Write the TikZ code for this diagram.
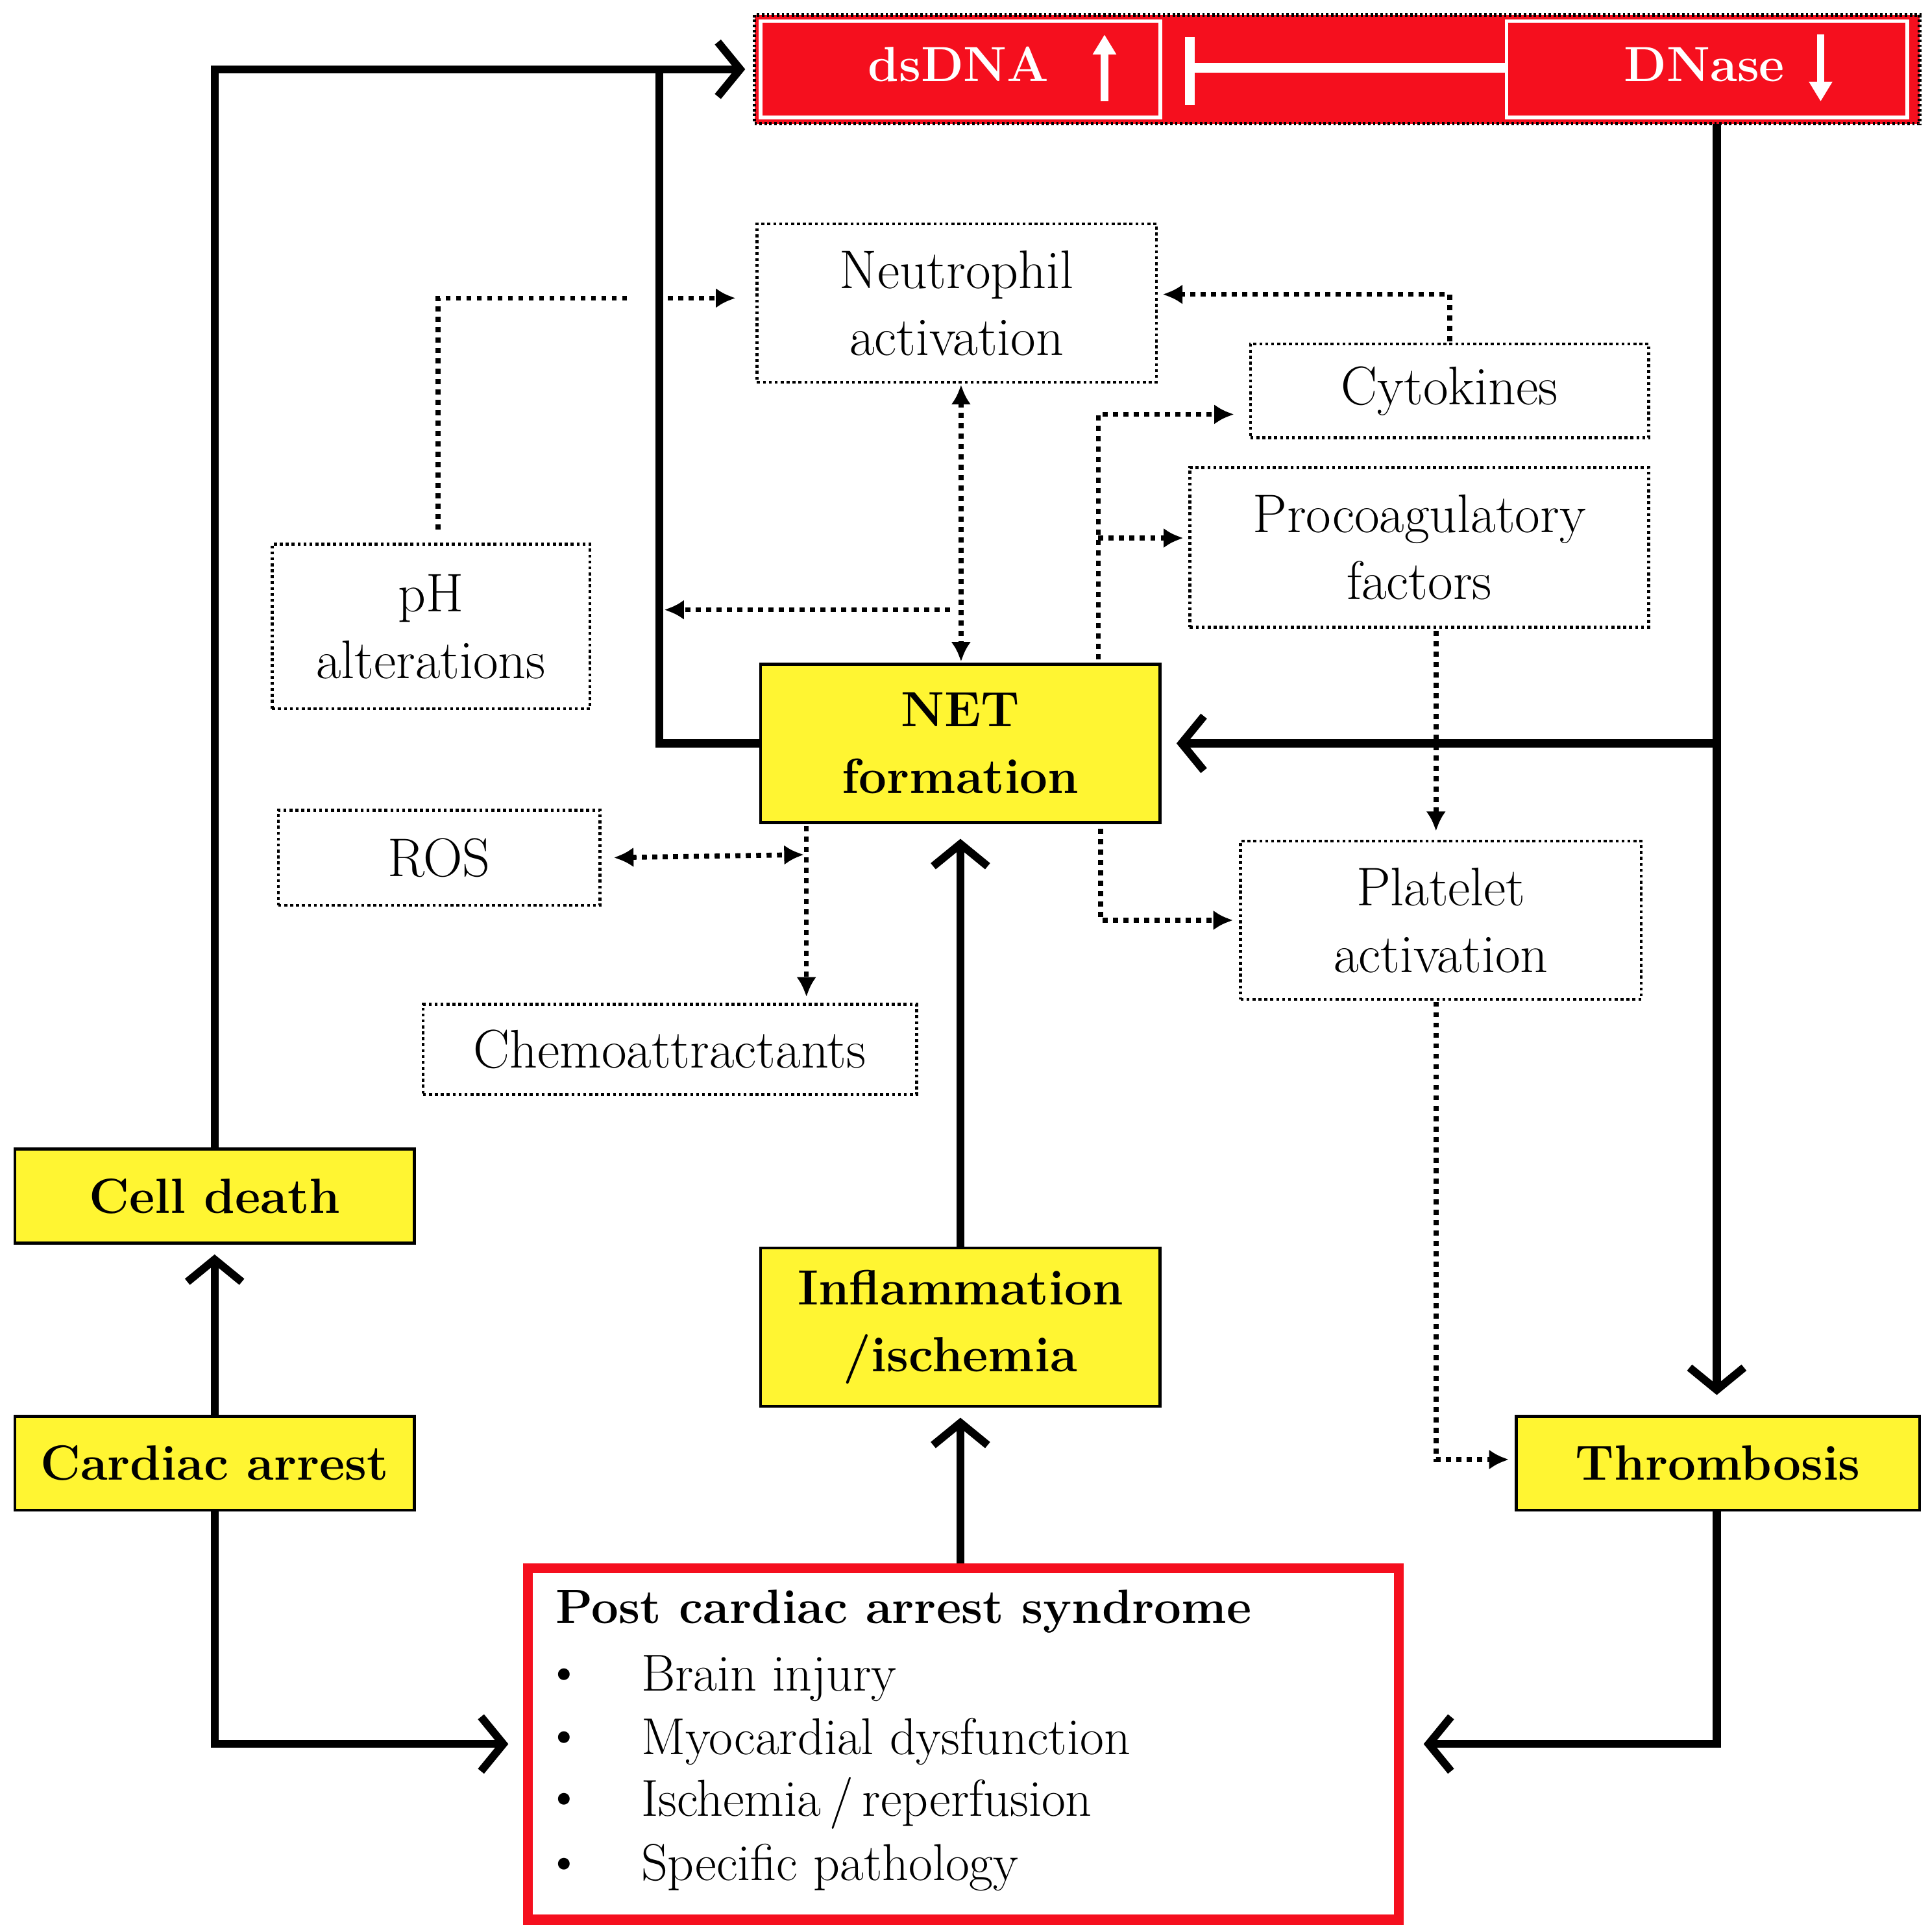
\documentclass[tikz,border=0pt]{standalone}
\usetikzlibrary{arrows.meta}
\definecolor{rred}{RGB}{245,15,30}
\definecolor{yel}{RGB}{255,245,50}
\begin{document}
\begin{tikzpicture}[x=0.5pt,y=-0.5pt,
  lab/.style={font=\fontsize{22}{27}\selectfont,align=center,inner sep=0pt},
  ptx/.style={inner sep=0pt,font=\fontsize{21}{25}\selectfont},
  dbox/.style={lab,draw,line width=1.2pt,dash pattern=on 1.2pt off 1.2pt},
  ybox/.style={lab,draw,fill=yel,line width=1.2pt,font=\fontsize{20}{27}\selectfont\bfseries},
  thk/.style={line width=3.2pt,-{Straight Barb[length=9pt,width=22pt,line width=3.2pt]}},
  thkn/.style={line width=3.2pt},
  dot/.style={line width=2pt,dash pattern=on 2pt off 2.2pt,-{Latex[length=8pt,width=8pt]}},
  dotd/.style={line width=2pt,dash pattern=on 2pt off 2.2pt,{Latex[length=8pt,width=8pt]}-{Latex[length=8pt,width=8pt]}},
  dotn/.style={line width=2pt,dash pattern=on 2pt off 2.2pt}]
\useasboundingbox (0,0) rectangle (1560,1562);
% top
\node[draw=black,fill=rred,line width=1.5pt,dash pattern=on 1pt off 1pt,minimum width=471pt,minimum height=44pt,inner sep=0pt] (outer) at (1081,56) {};
\node[draw=white,fill=rred,line width=1.5pt,minimum width=161.5pt,minimum height=39pt,inner sep=0pt] (ds) at (776.5,56) {};
\node[draw=white,fill=rred,line width=1.5pt,minimum width=162pt,minimum height=39pt,inner sep=0pt] (dn) at (1380,56) {};
\node[lab,text=white,font=\fontsize{20}{27}\selectfont\bfseries] (dst) at (775,52) {dsDNA};
\node[lab,text=white,font=\fontsize{20}{27}\selectfont\bfseries] (dnt) at (1378,52) {DNase};
\coordinate (ua) at (893,82); \coordinate (ub) at (893,28);
\coordinate (da) at (1472,28); \coordinate (db) at (1472,82);
\draw[white,line width=3pt,-{Triangle[length=8pt,width=9pt]}] (ua) -- (ub);
\draw[white,line width=3pt,-{Triangle[length=8pt,width=9pt]}] (da) -- (db);
\coordinate (i1) at (962,30); \coordinate (i2) at (962,85); \coordinate (i3) at (962,55);
\draw[white,line width=4pt] (i1) -- (i2);
\draw[white,line width=4pt] (i3) -- (dn.west |- i3);
% nodes
\node[dbox,minimum width=161.5pt,minimum height=64pt] (neut) at (773.5,245) {Neutrophil\\activation};
\node[dbox,minimum width=161pt,minimum height=38pt] (cyto) at (1172,316) {Cytokines};
\node[dbox,minimum width=185.5pt,minimum height=64.5pt] (proc) at (1147.5,442.5) {Procoagulatory\\factors};
\node[dbox,minimum width=128.5pt,minimum height=66.5pt] (ph) at (348.5,506.5) {pH\\alterations};
\node[ybox,minimum width=161.5pt,minimum height=64pt] (net) at (776.5,601) {NET\\formation};
\node[dbox,minimum width=130pt,minimum height=38.5pt] (ros) at (355,693.5) {ROS};
\node[dbox,minimum width=199.5pt,minimum height=36.5pt] (chemo) at (541.5,848.5) {Chemoattractants};
\node[dbox,minimum width=162pt,minimum height=64pt] (plat) at (1165,744) {Platelet\\activation};
\node[ybox,minimum width=161.5pt,minimum height=38pt] (celld) at (173.5,967) {Cell death};
\node[ybox,minimum width=161.5pt,minimum height=38pt] (card) at (173.5,1183) {Cardiac arrest};
\node[ybox,minimum width=161.5pt,minimum height=64pt] (infl) at (776.5,1073) {Inflammation\\/ischemia};
\node[ybox,minimum width=163pt,minimum height=38pt] (thr) at (1389,1183) {Thrombosis};
\node[draw=rred,line width=4pt,minimum width=352pt,minimum height=142pt,inner sep=0pt] (post) at (779,1410) {};
\node[ptx,anchor=west,font=\fontsize{19.5}{25}\selectfont\bfseries] (pt) at (449,1303) {Post cardiac arrest syndrome};
\node[ptx] (bua) at (456,1357) {\textbullet};
\node[ptx,anchor=west] (bta) at (518,1357) {Brain injury};
\node[ptx] (bub) at (456,1408) {\textbullet};
\node[ptx,anchor=west] (btb) at (518,1408) {Myocardial dysfunction};
\node[ptx] (buc) at (456,1458) {\textbullet};
\node[ptx,anchor=west] (btc) at (518,1458) {Ischemia\,/\,reperfusion};
\node[ptx] (bud) at (456,1510) {\textbullet};
\node[ptx,anchor=west] (btd) at (518,1510) {Specific pathology};
% thick connectors
\coordinate (j1) at (533,56);
\draw[thk,shorten >=3pt] (celld.north) |- (outer.west);
\draw[thkn] (net.west) -| (j1);
\coordinate (d1) at (1388,100);
\draw[thk,shorten >=8pt] (d1) -- (thr.north -| d1);
\draw[thk,shorten >=6pt] (d1 |- net.east) -- (net.east);
\draw[thk,shorten >=6pt] (infl.north) -- (net.south);
\draw[thk,shorten >=4pt] (post.north -| infl.south) -- (infl.south);
\draw[thk,shorten >=4pt] (card.north) -- (celld.south);
\coordinate (t1) at (1388,1415);
\draw[thk,shorten >=6pt] (card.south) |- (post.west);
\draw[thk,shorten >=8pt] (thr.south -| t1) |- (post.east);
% dotted connectors
\coordinate (p1) at (354,428); \coordinate (p2) at (510,241); \coordinate (p3) at (540,241);
\draw[dotn] (p1) |- (p2);
\draw[dot,shorten >=8pt] (p3) -- (neut.west |- p3);
\coordinate (n1) at (777,311); \coordinate (n2) at (777,535);
\draw[dotd] (n1) -- (n2);
\coordinate (n3) at (768,493); \coordinate (n4) at (537,493);
\draw[dot] (n3) -- (n4);
\coordinate (cy1) at (1172,276); \coordinate (cy2) at (940,238);
\draw[dot] (cy1) |- (cy2);
\coordinate (f1) at (888,533); \coordinate (f2) at (888,335); \coordinate (f3) at (888,435);
\draw[dot,shorten >=6pt] (f1) -- (f2) -- (cyto.west |- f2);
\draw[dot,shorten >=2pt] (f3) -- (proc.west |- f3);
\coordinate (g1) at (1161,510); \coordinate (g2) at (1161,672);
\draw[dot] (g1) -- (g2);
\coordinate (h1) at (890,670); \coordinate (h2) at (997,744);
\draw[dot] (h1) |- (h2);
\coordinate (r1) at (650,691); \coordinate (r2) at (652,668); \coordinate (r3) at (652,806);
\draw[dotd,shorten <=5pt] (ros.east) -- (r1);
\draw[dot] (r2) -- (r3);
\coordinate (k1) at (1161,810); \coordinate (k2) at (1220,1180);
\draw[dot] (k1) |- (k2);
\end{tikzpicture}
\end{document}
